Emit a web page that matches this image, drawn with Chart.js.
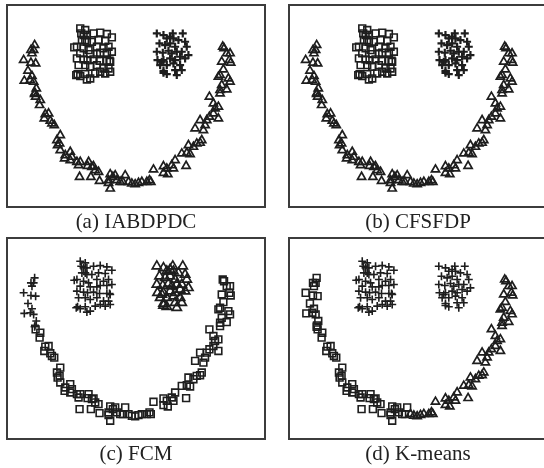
<!DOCTYPE html>
<html>
<head>
<meta charset="utf-8">
<script src="https://cdn.jsdelivr.net/npm/chart.js@4/dist/chart.umd.min.js"></script>
<style>
  body { margin: 0; background: #fff; width: 544px; height: 468px; overflow: hidden; position: relative; }
  canvas { position: absolute; }
</style>
</head>
<body>
<canvas id="pa" width="260" height="232" style="left:6px;top:4px"></canvas>
<canvas id="pb" width="260" height="232" style="left:288px;top:4px"></canvas>
<canvas id="pc" width="260" height="231" style="left:6px;top:237px"></canvas>
<canvas id="pd" width="260" height="231" style="left:288px;top:237px"></canvas>
<script>
'use strict'

// data, [x, y]

// top of the left arm of the arc
var armTop = [
  [10.3,48.5],[10.0,47.0],[9.2,47.0],[9.5,46.0],[7.0,44.0],[9.2,43.2],[10.6,43.0],
  [8.3,40.8],[9.5,39.2],[7.2,37.8],[9.0,38.0],[10.0,37.5],[10.8,35.5],[10.4,34.2],[10.3,33.8]
];

// rest of the left half of the arc
var arcLeft = [
  [10.6,33.0],[12.0,32.0],[11.8,30.5],[13.5,27.8],[14.5,28.0],[13.2,26.5],[15.0,25.8],
  [16.2,24.5],[15.5,25.0],[18.0,21.5],[17.0,20.0],[17.8,19.0],[18.0,17.0],[17.2,18.5],
  [19.5,15.5],[21.0,16.5],[21.5,15.0],[19.3,14.5],[21.0,14.0],[23.0,13.5],[23.5,12.5],
  [24.0,13.5],[26.5,13.5],[26.2,12.3],[27.5,12.0],[28.0,12.2],[29.5,10.5],[28.5,11.0],
  [23.8,9.0],[27.2,9.0],[29.8,7.8],[32.5,8.0],[32.5,7.2],[33.0,9.8],[33.8,9.0],
  [35.0,8.0],[34.5,9.5],[33.0,5.5],[36.0,7.5],[37.5,9.5],[36.8,7.5]
];

// right half of the arc
var arcRight = [
  [38.5,7.5],[39.5,7.0],[40.5,6.8],[41.5,7.2],[42.5,7.5],[44.0,7.5],[44.8,8.0],[45.2,7.5],
  [46.0,11.2],[49.0,12.2],[50.0,11.5],[49.0,10.2],[50.3,9.8],[52.0,11.5],[52.5,14.0],
  [51.5,12.5],[54.5,16.0],[56.0,16.2],[57.0,15.8],[55.8,12.3],[56.5,18.5],[58.0,18.0],
  [59.0,19.0],[60.0,19.2],[60.5,20.0],[58.5,23.5],[60.0,26.0],[61.5,24.5],[62.0,26.0],
  [61.0,23.0],[62.8,27.0],[64.0,28.0],[64.5,29.5],[65.5,30.0],[65.5,26.5],[64.0,31.0],
  [62.8,33.0],[66.0,34.0],[66.0,35.0],[68.0,35.2],[66.5,36.5],[69.0,37.5],[68.5,38.5],
  [65.5,39.0],[66.0,39.5],[67.0,41.2],[66.5,43.5],[68.8,44.0],[69.2,43.2],[68.0,46.0],
  [67.2,47.5],[66.8,48.0],[69.0,46.0]
];

// left blob
var blobLeft = [
  [24.0,53.5],[25.5,53.0],[24.3,52.0],[26.0,51.5],[25.0,51.5],[28.0,52.0],[30.0,52.2],
  [32.0,51.8],[33.5,50.8],[24.5,50.0],[25.5,50.0],[26.0,49.5],[27.5,49.5],[29.5,50.0],
  [31.5,49.8],[23.0,48.0],[25.0,47.5],[26.5,47.0],[29.0,48.0],[31.0,47.5],[32.5,48.0],
  [22.2,47.8],[24.0,46.0],[27.0,45.8],[29.0,45.8],[30.0,46.2],[32.0,46.2],[33.5,46.5],
  [23.0,44.5],[25.0,44.2],[26.2,44.0],[28.0,44.2],[29.8,43.8],[32.0,43.8],[32.8,43.8],
  [33.0,43.5],[23.5,42.5],[25.5,42.5],[27.0,42.0],[29.0,42.5],[31.0,41.5],[32.5,41.5],
  [22.8,39.5],[24.0,39.2],[25.5,39.8],[27.0,38.5],[28.5,40.0],[30.0,40.5],[31.5,40.0],
  [33.0,40.5],[23.2,39.8],[26.0,38.2]
];

// right blob
var blobRight = [
  [47.0,52.0],[49.0,51.5],[51.8,52.0],[54.8,52.0],[51.0,51.0],[50.0,50.5],[52.0,50.5],
  [53.5,50.0],[55.5,49.5],[47.8,49.0],[49.5,48.5],[51.0,49.0],[52.5,48.0],[56.0,48.0],
  [47.0,46.5],[48.8,46.2],[50.5,46.8],[51.5,46.0],[53.0,46.5],[54.5,46.5],[56.5,45.5],
  [47.2,44.0],[49.0,44.0],[48.5,43.5],[51.0,44.5],[52.5,44.0],[54.0,45.0],[55.5,44.5],
  [48.0,42.5],[50.0,42.5],[52.0,43.0],[54.0,42.5],[49.0,40.8],[52.5,41.0],[54.5,41.0],
  [50.0,39.8],[53.0,39.5],[49.0,40.2]
];

var captions = ['(a) IABDPDC', '(b) CFSFDP', '(c) FCM', '(d) K-means'];

// marker looks

function pts(list) {
  return list.map(function(p) { return { x: p[0], y: p[1] } });
}

function tri(list, r) {
  return { data: pts(list), pointStyle: 'triangle', pointRadius: r || 4.7, borderWidth: 1.7,
    borderColor: '#1e1e1e', backgroundColor: 'rgba(0,0,0,0)' };
}
function sq(list) {
  return { data: pts(list), pointStyle: 'rect', pointRadius: 4.8, borderWidth: 1.6,
    borderColor: '#1e1e1e', backgroundColor: 'rgba(0,0,0,0)' };
}
function plus(list, w) {
  return { data: pts(list), pointStyle: 'cross', pointRadius: 4, borderWidth: w || 1.6,
    borderColor: '#1e1e1e', backgroundColor: 'rgba(0,0,0,0)' };
}

var framePlugin = {
  id: 'frame',
  afterDraw: function(chart) {
    var a = chart.chartArea, ctx = chart.ctx;
    ctx.save();
    ctx.strokeStyle = '#3c3c3c';
    ctx.lineWidth = 2;
    ctx.strokeRect(a.left, a.top, a.right - a.left, a.bottom - a.top);
    ctx.fillStyle = '#222';
    ctx.font = '21px "Liberation Serif", "DejaVu Serif", serif';
    ctx.textAlign = 'center';
    ctx.textBaseline = 'middle';
    ctx.fillText(chart.options.caption, (a.left + a.right) / 2, a.bottom + 15);
    ctx.restore();
  }
};

function panel(id, caption, datasets) {
  return new Chart(document.getElementById(id), {
    type: 'scatter',
    data: { datasets: datasets },
    options: {
      caption: caption,
      responsive: false,
      animation: false,
      devicePixelRatio: 1,
      layout: { autoPadding: false, padding: { left: 1, top: 1, right: 1, bottom: 29 } },
      plugins: { legend: { display: false }, tooltip: { enabled: false } },
      scales: {
        x: { type: 'linear', display: false, min: 2, max: 79.5 },
        y: { type: 'linear', display: false, min: 0, max: 60.5 }
      }
    },
    plugins: [framePlugin]
  });
}

var arcAll = armTop.concat(arcLeft, arcRight);

panel('pa', captions[0], [sq(blobLeft), plus(blobRight, 2.2), tri(arcAll)]);
panel('pb', captions[1], [sq(blobLeft), plus(blobRight, 2.2), tri(arcAll)]);
panel('pc', captions[2], [plus(blobLeft.concat(armTop)), tri(blobRight, 5.3), sq(arcLeft.concat(arcRight))]);
panel('pd', captions[3], [plus(blobLeft.concat(blobRight)), sq(armTop.concat(arcLeft)), tri(arcRight)]);
</script>
</body>
</html>
